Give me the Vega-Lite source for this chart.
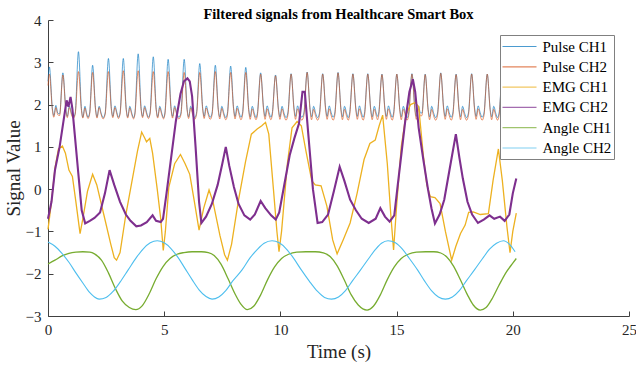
{
"$schema":"https://vega.github.io/schema/vega-lite/v6.json",
"width":581,"height":296,
"autosize":{"type":"none"},
"padding":{"left":48,"top":20,"right":7,"bottom":52},
"background":"white",
"title":{"text":"Filtered signals from Healthcare Smart Box","font":"Liberation Serif","fontSize":14.5,"fontWeight":"bold","color":"#000000","offset":-9,"anchor":"middle"},
"config":{
 "view":{"stroke":null},
 "axis":{"grid":false,"domainColor":"#404040","tickColor":"#404040","tickSize":-5,"labelFont":"Liberation Serif","labelFontSize":15,"labelColor":"#262626","titleFont":"Liberation Serif","titleFontSize":19,"titleFontWeight":"normal","titleColor":"#262626","labelFlush":false,"labelOverlap":false,"labelBound":false},
 "legend":{"orient":"none","legendX":452,"legendY":15,"labelFont":"Liberation Serif","labelFontSize":15,"labelColor":"#000000","symbolType":"M-2.125,0H2.125","symbolSize":256,"symbolStrokeWidth":1.2,"strokeColor":"#808080","fillColor":"#ffffff","padding":2.5,"rowPadding":3.3,"symbolOffset":8,"labelOffset":14}
},
"datasets":{
"pulse":[
{"t":0,"Pulse CH1":2.55,"Pulse CH2":2.45},
{"t":0.06,"Pulse CH1":2.89,"Pulse CH2":2.72},{"t":0.19,"Pulse CH1":1.9,"Pulse CH2":1.86},{"t":0.25,"Pulse CH1":1.74,"Pulse CH2":1.7},{"t":0.34,"Pulse CH1":1.98,"Pulse CH2":1.93},{"t":0.42,"Pulse CH1":1.8,"Pulse CH2":1.76},{"t":0.5,"Pulse CH1":1.78,"Pulse CH2":1.74},
{"t":0.64,"Pulse CH1":2.75,"Pulse CH2":2.7},{"t":0.77,"Pulse CH1":1.88,"Pulse CH2":1.85},{"t":0.83,"Pulse CH1":1.72,"Pulse CH2":1.69},{"t":0.92,"Pulse CH1":1.97,"Pulse CH2":1.93},{"t":1.01,"Pulse CH1":1.8,"Pulse CH2":1.76},{"t":1.09,"Pulse CH1":1.7,"Pulse CH2":1.67},{"t":1.17,"Pulse CH1":1.8,"Pulse CH2":1.77},
{"t":1.31,"Pulse CH1":3.25,"Pulse CH2":2.78},{"t":1.44,"Pulse CH1":1.9,"Pulse CH2":1.86},{"t":1.5,"Pulse CH1":1.7,"Pulse CH2":1.68},{"t":1.59,"Pulse CH1":1.96,"Pulse CH2":1.92},{"t":1.66,"Pulse CH1":1.8,"Pulse CH2":1.76},{"t":1.72,"Pulse CH1":1.7,"Pulse CH2":1.67},{"t":1.79,"Pulse CH1":1.8,"Pulse CH2":1.77},
{"t":1.92,"Pulse CH1":2.93,"Pulse CH2":2.76},{"t":2.05,"Pulse CH1":1.88,"Pulse CH2":1.85},{"t":2.11,"Pulse CH1":1.71,"Pulse CH2":1.68},{"t":2.2,"Pulse CH1":1.96,"Pulse CH2":1.93},{"t":2.29,"Pulse CH1":1.79,"Pulse CH2":1.76},{"t":2.37,"Pulse CH1":1.69,"Pulse CH2":1.66},{"t":2.46,"Pulse CH1":1.8,"Pulse CH2":1.77},
{"t":2.6,"Pulse CH1":3.09,"Pulse CH2":2.78},{"t":2.73,"Pulse CH1":1.9,"Pulse CH2":1.86},{"t":2.79,"Pulse CH1":1.72,"Pulse CH2":1.69},{"t":2.88,"Pulse CH1":1.97,"Pulse CH2":1.93},{"t":2.97,"Pulse CH1":1.8,"Pulse CH2":1.76},{"t":3.03,"Pulse CH1":1.7,"Pulse CH2":1.67},{"t":3.1,"Pulse CH1":1.8,"Pulse CH2":1.77},
{"t":3.24,"Pulse CH1":3.09,"Pulse CH2":2.8},{"t":3.37,"Pulse CH1":1.88,"Pulse CH2":1.85},{"t":3.43,"Pulse CH1":1.71,"Pulse CH2":1.68},{"t":3.52,"Pulse CH1":1.96,"Pulse CH2":1.92},{"t":3.61,"Pulse CH1":1.79,"Pulse CH2":1.75},{"t":3.68,"Pulse CH1":1.69,"Pulse CH2":1.66},{"t":3.74,"Pulse CH1":1.8,"Pulse CH2":1.77},
{"t":3.88,"Pulse CH1":3.2,"Pulse CH2":2.8},{"t":4.01,"Pulse CH1":1.9,"Pulse CH2":1.86},{"t":4.07,"Pulse CH1":1.72,"Pulse CH2":1.69},{"t":4.16,"Pulse CH1":1.97,"Pulse CH2":1.93},{"t":4.25,"Pulse CH1":1.8,"Pulse CH2":1.76},{"t":4.32,"Pulse CH1":1.7,"Pulse CH2":1.67},{"t":4.39,"Pulse CH1":1.8,"Pulse CH2":1.77},
{"t":4.53,"Pulse CH1":3.13,"Pulse CH2":2.78},{"t":4.66,"Pulse CH1":1.88,"Pulse CH2":1.85},{"t":4.72,"Pulse CH1":1.71,"Pulse CH2":1.68},{"t":4.81,"Pulse CH1":1.96,"Pulse CH2":1.92},{"t":4.9,"Pulse CH1":1.79,"Pulse CH2":1.75},{"t":4.97,"Pulse CH1":1.69,"Pulse CH2":1.66},{"t":5.03,"Pulse CH1":1.8,"Pulse CH2":1.77},
{"t":5.17,"Pulse CH1":3.07,"Pulse CH2":2.78},{"t":5.3,"Pulse CH1":1.9,"Pulse CH2":1.86},{"t":5.36,"Pulse CH1":1.72,"Pulse CH2":1.68},{"t":5.45,"Pulse CH1":1.97,"Pulse CH2":1.93},{"t":5.54,"Pulse CH1":1.8,"Pulse CH2":1.76},{"t":5.63,"Pulse CH1":1.7,"Pulse CH2":1.66},{"t":5.72,"Pulse CH1":1.8,"Pulse CH2":1.76},
{"t":5.86,"Pulse CH1":3.07,"Pulse CH2":2.76},{"t":5.99,"Pulse CH1":1.88,"Pulse CH2":1.85},{"t":6.05,"Pulse CH1":1.71,"Pulse CH2":1.67},{"t":6.14,"Pulse CH1":1.96,"Pulse CH2":1.92},{"t":6.23,"Pulse CH1":1.79,"Pulse CH2":1.75},{"t":6.31,"Pulse CH1":1.69,"Pulse CH2":1.65},{"t":6.39,"Pulse CH1":1.8,"Pulse CH2":1.76},
{"t":6.53,"Pulse CH1":2.97,"Pulse CH2":2.76},{"t":6.66,"Pulse CH1":1.9,"Pulse CH2":1.86},{"t":6.72,"Pulse CH1":1.72,"Pulse CH2":1.67},{"t":6.81,"Pulse CH1":1.97,"Pulse CH2":1.92},{"t":6.9,"Pulse CH1":1.8,"Pulse CH2":1.75},{"t":6.98,"Pulse CH1":1.7,"Pulse CH2":1.65},{"t":7.06,"Pulse CH1":1.8,"Pulse CH2":1.76},
{"t":7.2,"Pulse CH1":2.93,"Pulse CH2":2.78},{"t":7.33,"Pulse CH1":1.88,"Pulse CH2":1.85},{"t":7.39,"Pulse CH1":1.71,"Pulse CH2":1.66},{"t":7.48,"Pulse CH1":1.96,"Pulse CH2":1.91},{"t":7.57,"Pulse CH1":1.79,"Pulse CH2":1.74},{"t":7.65,"Pulse CH1":1.69,"Pulse CH2":1.64},{"t":7.72,"Pulse CH1":1.8,"Pulse CH2":1.75},
{"t":7.86,"Pulse CH1":2.91,"Pulse CH2":2.76},{"t":7.99,"Pulse CH1":1.9,"Pulse CH2":1.86},{"t":8.05,"Pulse CH1":1.72,"Pulse CH2":1.66},{"t":8.14,"Pulse CH1":1.97,"Pulse CH2":1.91},{"t":8.23,"Pulse CH1":1.8,"Pulse CH2":1.74},{"t":8.3,"Pulse CH1":1.7,"Pulse CH2":1.64},{"t":8.37,"Pulse CH1":1.8,"Pulse CH2":1.75},
{"t":8.51,"Pulse CH1":2.88,"Pulse CH2":2.76},{"t":8.64,"Pulse CH1":1.88,"Pulse CH2":1.84},{"t":8.7,"Pulse CH1":1.71,"Pulse CH2":1.65},{"t":8.79,"Pulse CH1":1.96,"Pulse CH2":1.9},{"t":8.88,"Pulse CH1":1.79,"Pulse CH2":1.73},{"t":8.95,"Pulse CH1":1.69,"Pulse CH2":1.64},{"t":9.01,"Pulse CH1":1.8,"Pulse CH2":1.75},
{"t":9.15,"Pulse CH1":2.75,"Pulse CH2":2.72},{"t":9.28,"Pulse CH1":1.9,"Pulse CH2":1.85},{"t":9.34,"Pulse CH1":1.72,"Pulse CH2":1.65},{"t":9.43,"Pulse CH1":1.97,"Pulse CH2":1.9},{"t":9.52,"Pulse CH1":1.8,"Pulse CH2":1.73},{"t":9.59,"Pulse CH1":1.7,"Pulse CH2":1.64},{"t":9.65,"Pulse CH1":1.8,"Pulse CH2":1.75},
{"t":9.79,"Pulse CH1":2.7,"Pulse CH2":2.68},{"t":9.92,"Pulse CH1":1.88,"Pulse CH2":1.84},{"t":9.98,"Pulse CH1":1.71,"Pulse CH2":1.65},{"t":10.07,"Pulse CH1":1.96,"Pulse CH2":1.9},{"t":10.16,"Pulse CH1":1.79,"Pulse CH2":1.73},{"t":10.24,"Pulse CH1":1.69,"Pulse CH2":1.63},{"t":10.32,"Pulse CH1":1.8,"Pulse CH2":1.74},
{"t":10.46,"Pulse CH1":2.73,"Pulse CH2":2.72},{"t":10.59,"Pulse CH1":1.9,"Pulse CH2":1.85},{"t":10.65,"Pulse CH1":1.72,"Pulse CH2":1.65},{"t":10.74,"Pulse CH1":1.97,"Pulse CH2":1.9},{"t":10.83,"Pulse CH1":1.8,"Pulse CH2":1.73},{"t":10.92,"Pulse CH1":1.7,"Pulse CH2":1.63},{"t":11.01,"Pulse CH1":1.8,"Pulse CH2":1.74},
{"t":11.15,"Pulse CH1":2.77,"Pulse CH2":2.76},{"t":11.28,"Pulse CH1":1.88,"Pulse CH2":1.84},{"t":11.34,"Pulse CH1":1.71,"Pulse CH2":1.64},{"t":11.43,"Pulse CH1":1.96,"Pulse CH2":1.89},{"t":11.52,"Pulse CH1":1.79,"Pulse CH2":1.72},{"t":11.6,"Pulse CH1":1.69,"Pulse CH2":1.63},{"t":11.68,"Pulse CH1":1.8,"Pulse CH2":1.74},
{"t":11.82,"Pulse CH1":2.73,"Pulse CH2":2.72},{"t":11.95,"Pulse CH1":1.9,"Pulse CH2":1.85},{"t":12.01,"Pulse CH1":1.72,"Pulse CH2":1.65},{"t":12.1,"Pulse CH1":1.97,"Pulse CH2":1.9},{"t":12.19,"Pulse CH1":1.8,"Pulse CH2":1.73},{"t":12.27,"Pulse CH1":1.7,"Pulse CH2":1.63},{"t":12.34,"Pulse CH1":1.8,"Pulse CH2":1.74},
{"t":12.48,"Pulse CH1":2.76,"Pulse CH2":2.75},{"t":12.61,"Pulse CH1":1.88,"Pulse CH2":1.84},{"t":12.67,"Pulse CH1":1.71,"Pulse CH2":1.64},{"t":12.76,"Pulse CH1":1.96,"Pulse CH2":1.89},{"t":12.85,"Pulse CH1":1.79,"Pulse CH2":1.72},{"t":12.92,"Pulse CH1":1.69,"Pulse CH2":1.63},{"t":12.98,"Pulse CH1":1.8,"Pulse CH2":1.74},
{"t":13.12,"Pulse CH1":2.73,"Pulse CH2":2.72},{"t":13.25,"Pulse CH1":1.9,"Pulse CH2":1.85},{"t":13.31,"Pulse CH1":1.72,"Pulse CH2":1.65},{"t":13.4,"Pulse CH1":1.97,"Pulse CH2":1.9},{"t":13.49,"Pulse CH1":1.8,"Pulse CH2":1.73},{"t":13.56,"Pulse CH1":1.7,"Pulse CH2":1.63},{"t":13.62,"Pulse CH1":1.8,"Pulse CH2":1.74},
{"t":13.76,"Pulse CH1":2.73,"Pulse CH2":2.72},{"t":13.89,"Pulse CH1":1.88,"Pulse CH2":1.84},{"t":13.95,"Pulse CH1":1.71,"Pulse CH2":1.64},{"t":14.04,"Pulse CH1":1.96,"Pulse CH2":1.89},{"t":14.13,"Pulse CH1":1.79,"Pulse CH2":1.72},{"t":14.18,"Pulse CH1":1.72,"Pulse CH2":1.64},{"t":14.23,"Pulse CH1":1.8,"Pulse CH2":1.74},
{"t":14.37,"Pulse CH1":2.72,"Pulse CH2":2.71},{"t":14.5,"Pulse CH1":1.9,"Pulse CH2":1.85},{"t":14.56,"Pulse CH1":1.72,"Pulse CH2":1.65},{"t":14.65,"Pulse CH1":1.97,"Pulse CH2":1.9},{"t":14.74,"Pulse CH1":1.8,"Pulse CH2":1.73},{"t":14.81,"Pulse CH1":1.7,"Pulse CH2":1.63},{"t":14.87,"Pulse CH1":1.8,"Pulse CH2":1.74},
{"t":15.01,"Pulse CH1":2.72,"Pulse CH2":2.72},{"t":15.14,"Pulse CH1":1.88,"Pulse CH2":1.84},{"t":15.2,"Pulse CH1":1.71,"Pulse CH2":1.64},{"t":15.29,"Pulse CH1":1.96,"Pulse CH2":1.89},{"t":15.38,"Pulse CH1":1.79,"Pulse CH2":1.72},{"t":15.45,"Pulse CH1":1.69,"Pulse CH2":1.63},{"t":15.52,"Pulse CH1":1.8,"Pulse CH2":1.74},
{"t":15.66,"Pulse CH1":2.73,"Pulse CH2":2.72},{"t":15.79,"Pulse CH1":1.9,"Pulse CH2":1.85},{"t":15.85,"Pulse CH1":1.72,"Pulse CH2":1.65},{"t":15.94,"Pulse CH1":1.97,"Pulse CH2":1.9},{"t":16.03,"Pulse CH1":1.8,"Pulse CH2":1.73},{"t":16.09,"Pulse CH1":1.8,"Pulse CH2":1.74},
{"t":16.23,"Pulse CH1":2.72,"Pulse CH2":2.71},{"t":16.36,"Pulse CH1":1.88,"Pulse CH2":1.84},{"t":16.42,"Pulse CH1":1.71,"Pulse CH2":1.64},{"t":16.51,"Pulse CH1":1.96,"Pulse CH2":1.89},{"t":16.6,"Pulse CH1":1.79,"Pulse CH2":1.72},{"t":16.68,"Pulse CH1":1.69,"Pulse CH2":1.63},{"t":16.76,"Pulse CH1":1.8,"Pulse CH2":1.74},
{"t":16.9,"Pulse CH1":2.75,"Pulse CH2":2.74},{"t":17.03,"Pulse CH1":1.9,"Pulse CH2":1.85},{"t":17.09,"Pulse CH1":1.72,"Pulse CH2":1.65},{"t":17.18,"Pulse CH1":1.97,"Pulse CH2":1.9},{"t":17.27,"Pulse CH1":1.8,"Pulse CH2":1.73},{"t":17.35,"Pulse CH1":1.7,"Pulse CH2":1.63},{"t":17.42,"Pulse CH1":1.8,"Pulse CH2":1.74},
{"t":17.56,"Pulse CH1":2.72,"Pulse CH2":2.71},{"t":17.69,"Pulse CH1":1.88,"Pulse CH2":1.84},{"t":17.75,"Pulse CH1":1.71,"Pulse CH2":1.64},{"t":17.84,"Pulse CH1":1.96,"Pulse CH2":1.89},{"t":17.93,"Pulse CH1":1.79,"Pulse CH2":1.72},{"t":18.01,"Pulse CH1":1.69,"Pulse CH2":1.63},{"t":18.09,"Pulse CH1":1.8,"Pulse CH2":1.74},
{"t":18.23,"Pulse CH1":2.73,"Pulse CH2":2.72},{"t":18.36,"Pulse CH1":1.9,"Pulse CH2":1.85},{"t":18.42,"Pulse CH1":1.72,"Pulse CH2":1.65},{"t":18.51,"Pulse CH1":1.97,"Pulse CH2":1.9},{"t":18.6,"Pulse CH1":1.8,"Pulse CH2":1.73},{"t":18.68,"Pulse CH1":1.7,"Pulse CH2":1.63},{"t":18.76,"Pulse CH1":1.8,"Pulse CH2":1.74},
{"t":18.9,"Pulse CH1":2.72,"Pulse CH2":2.72},{"t":19.03,"Pulse CH1":1.88,"Pulse CH2":1.84},{"t":19.09,"Pulse CH1":1.71,"Pulse CH2":1.64},{"t":19.18,"Pulse CH1":1.96,"Pulse CH2":1.89},{"t":19.27,"Pulse CH1":1.79,"Pulse CH2":1.72},{"t":19.34,"Pulse CH1":1.69,"Pulse CH2":1.63},{"t":19.41,"Pulse CH1":1.8,"Pulse CH2":1.74},
{"t":19.55,"Pulse CH1":2.72,"Pulse CH2":2.71},{"t":19.68,"Pulse CH1":1.9,"Pulse CH2":1.85},{"t":19.74,"Pulse CH1":1.72,"Pulse CH2":1.65},{"t":19.83,"Pulse CH1":1.97,"Pulse CH2":1.9},{"t":19.92,"Pulse CH1":1.8,"Pulse CH2":1.73},{"t":20.0,"Pulse CH1":1.7,"Pulse CH2":1.63},{"t":20.1,"Pulse CH1":1.82,"Pulse CH2":1.76}
],
"emg1":[
{"t":0,"v":-0.95},{"t":0.15,"v":-0.3},{"t":0.3,"v":0.5},{"t":0.45,"v":0.95},{"t":0.62,"v":1.02},{"t":0.75,"v":0.85},{"t":0.9,"v":0.45},{"t":1.05,"v":0.3},{"t":1.2,"v":-0.3},{"t":1.38,"v":-1.05},{"t":1.5,"v":-0.7},{"t":1.7,"v":-0.05},{"t":1.92,"v":0.35},{"t":2.1,"v":0.1},{"t":2.4,"v":-0.6},{"t":2.7,"v":-1.3},{"t":2.85,"v":-1.62},{"t":2.95,"v":-1.68},{"t":3.1,"v":-1.5},{"t":3.35,"v":-0.6},{"t":3.6,"v":0.15},{"t":3.85,"v":0.9},{"t":4.03,"v":1.35},{"t":4.15,"v":1.22},{"t":4.24,"v":1.12},{"t":4.38,"v":1.2},{"t":4.5,"v":0.85},{"t":4.7,"v":0.0},{"t":4.85,"v":-0.7},{"t":4.96,"v":-1.45},{"t":5.05,"v":-1.0},{"t":5.2,"v":0.05},{"t":5.45,"v":0.6},{"t":5.7,"v":0.82},{"t":5.9,"v":0.6},{"t":6.1,"v":0.35},{"t":6.3,"v":-0.3},{"t":6.5,"v":-0.97},{"t":6.7,"v":-0.45},{"t":6.93,"v":-0.02},{"t":7.1,"v":-0.3},{"t":7.4,"v":-1.1},{"t":7.6,"v":-1.55},{"t":7.72,"v":-1.68},{"t":7.9,"v":-1.3},{"t":8.2,"v":-0.25},{"t":8.5,"v":0.65},{"t":8.75,"v":1.3},{"t":9.0,"v":1.42},{"t":9.2,"v":1.5},{"t":9.36,"v":1.58},{"t":9.5,"v":1.3},{"t":9.7,"v":0.0},{"t":9.85,"v":-1.0},{"t":9.94,"v":-1.48},{"t":10.05,"v":-1.0},{"t":10.3,"v":0.6},{"t":10.5,"v":1.45},{"t":10.72,"v":1.6},{"t":10.9,"v":1.5},{"t":11.1,"v":0.9},{"t":11.35,"v":0.2},{"t":11.5,"v":0.1},{"t":11.75,"v":0.08},{"t":12.0,"v":-0.4},{"t":12.25,"v":-1.2},{"t":12.44,"v":-1.53},{"t":12.7,"v":-1.2},{"t":13.0,"v":-0.8},{"t":13.3,"v":-0.1},{"t":13.6,"v":0.7},{"t":13.85,"v":1.08},{"t":14.08,"v":1.16},{"t":14.25,"v":1.5},{"t":14.4,"v":1.75},{"t":14.6,"v":0.6},{"t":14.75,"v":-0.6},{"t":14.87,"v":-1.44},{"t":15.0,"v":-0.4},{"t":15.2,"v":1.0},{"t":15.4,"v":1.75},{"t":15.6,"v":2.0},{"t":15.8,"v":2.05},{"t":15.95,"v":1.95},{"t":16.15,"v":0.8},{"t":16.3,"v":0.1},{"t":16.45,"v":-0.18},{"t":16.65,"v":-0.2},{"t":16.87,"v":-0.34},{"t":17.1,"v":-1.0},{"t":17.37,"v":-1.68},{"t":17.55,"v":-1.35},{"t":17.75,"v":-1.05},{"t":17.95,"v":-0.85},{"t":18.1,"v":-0.55},{"t":18.3,"v":-0.54},{"t":18.6,"v":-0.6},{"t":18.95,"v":-0.58},{"t":19.15,"v":0.2},{"t":19.38,"v":0.95},{"t":19.55,"v":0.2},{"t":19.75,"v":-0.9},{"t":19.88,"v":-1.5},{"t":20.0,"v":-1.0},{"t":20.15,"v":-0.57}
],
"emg2":[
{"t":0,"v":-0.7},{"t":0.15,"v":-0.3},{"t":0.3,"v":0.45},{"t":0.5,"v":1.0},{"t":0.65,"v":1.55},{"t":0.8,"v":2.1},{"t":0.88,"v":1.95},{"t":0.97,"v":2.18},{"t":1.05,"v":1.9},{"t":1.15,"v":1.3},{"t":1.3,"v":0.4},{"t":1.45,"v":-0.5},{"t":1.6,"v":-0.81},{"t":1.8,"v":-0.75},{"t":2.0,"v":-0.68},{"t":2.24,"v":-0.55},{"t":2.45,"v":-0.1},{"t":2.65,"v":0.45},{"t":2.85,"v":0.1},{"t":3.1,"v":-0.3},{"t":3.35,"v":-0.6},{"t":3.55,"v":-0.75},{"t":3.8,"v":-0.88},{"t":4.0,"v":-0.86},{"t":4.25,"v":-0.78},{"t":4.5,"v":-0.62},{"t":4.65,"v":-0.75},{"t":4.85,"v":-0.78},{"t":4.95,"v":-0.7},{"t":5.1,"v":-0.1},{"t":5.3,"v":0.75},{"t":5.5,"v":1.6},{"t":5.7,"v":2.25},{"t":5.85,"v":2.55},{"t":6.0,"v":2.62},{"t":6.1,"v":2.55},{"t":6.2,"v":2.2},{"t":6.35,"v":1.0},{"t":6.5,"v":-0.3},{"t":6.6,"v":-0.8},{"t":6.8,"v":-0.65},{"t":7.05,"v":-0.35},{"t":7.3,"v":0.1},{"t":7.5,"v":0.6},{"t":7.65,"v":1.0},{"t":7.8,"v":0.55},{"t":8.0,"v":0.05},{"t":8.2,"v":-0.35},{"t":8.45,"v":-0.62},{"t":8.7,"v":-0.72},{"t":8.9,"v":-0.6},{"t":9.15,"v":-0.28},{"t":9.35,"v":-0.45},{"t":9.6,"v":-0.62},{"t":9.8,"v":-0.72},{"t":9.95,"v":-0.55},{"t":10.15,"v":0.05},{"t":10.4,"v":0.8},{"t":10.6,"v":1.2},{"t":10.8,"v":1.55},{"t":10.95,"v":2.3},{"t":11.05,"v":2.3},{"t":11.2,"v":1.3},{"t":11.4,"v":0.0},{"t":11.6,"v":-0.8},{"t":11.8,"v":-0.78},{"t":12.05,"v":-0.6},{"t":12.3,"v":-0.05},{"t":12.55,"v":0.53},{"t":12.75,"v":0.2},{"t":13.0,"v":-0.25},{"t":13.25,"v":-0.5},{"t":13.5,"v":-0.7},{"t":13.8,"v":-0.8},{"t":14.1,"v":-0.7},{"t":14.3,"v":-0.45},{"t":14.5,"v":-0.65},{"t":14.7,"v":-0.77},{"t":14.9,"v":-0.62},{"t":15.05,"v":0.1},{"t":15.2,"v":0.8},{"t":15.37,"v":1.6},{"t":15.55,"v":2.3},{"t":15.7,"v":2.6},{"t":15.8,"v":2.3},{"t":15.95,"v":1.45},{"t":16.15,"v":0.7},{"t":16.35,"v":0.0},{"t":16.5,"v":-0.45},{"t":16.65,"v":-0.81},{"t":16.85,"v":-0.6},{"t":17.05,"v":-0.25},{"t":17.3,"v":0.53},{"t":17.55,"v":1.3},{"t":17.7,"v":0.75},{"t":17.85,"v":0.25},{"t":18.05,"v":-0.3},{"t":18.25,"v":-0.6},{"t":18.5,"v":-0.8},{"t":18.75,"v":-0.72},{"t":19.0,"v":-0.62},{"t":19.2,"v":-0.7},{"t":19.45,"v":-0.65},{"t":19.65,"v":-0.75},{"t":19.85,"v":-0.6},{"t":20.0,"v":-0.1},{"t":20.15,"v":0.25}
],
"ang1":[
{"t":0,"v":-1.77},{"t":0.3,"v":-1.68},{"t":0.6,"v":-1.58},{"t":0.9,"v":-1.52},{"t":1.2,"v":-1.49},{"t":1.5,"v":-1.48},{"t":1.8,"v":-1.49},{"t":2.0,"v":-1.53},{"t":2.3,"v":-1.68},{"t":2.6,"v":-1.98},{"t":2.9,"v":-2.35},{"t":3.2,"v":-2.65},{"t":3.5,"v":-2.8},{"t":3.78,"v":-2.85},{"t":4.05,"v":-2.76},{"t":4.35,"v":-2.48},{"t":4.65,"v":-2.12},{"t":4.95,"v":-1.83},{"t":5.25,"v":-1.64},{"t":5.55,"v":-1.54},{"t":5.85,"v":-1.5},{"t":6.2,"v":-1.48},{"t":6.6,"v":-1.48},{"t":6.9,"v":-1.5},{"t":7.15,"v":-1.57},{"t":7.45,"v":-1.78},{"t":7.75,"v":-2.12},{"t":8.05,"v":-2.48},{"t":8.3,"v":-2.72},{"t":8.58,"v":-2.85},{"t":8.85,"v":-2.77},{"t":9.15,"v":-2.5},{"t":9.45,"v":-2.14},{"t":9.75,"v":-1.84},{"t":10.05,"v":-1.64},{"t":10.35,"v":-1.54},{"t":10.7,"v":-1.49},{"t":11.1,"v":-1.48},{"t":11.5,"v":-1.48},{"t":11.85,"v":-1.51},{"t":12.15,"v":-1.6},{"t":12.45,"v":-1.82},{"t":12.75,"v":-2.15},{"t":13.05,"v":-2.5},{"t":13.35,"v":-2.74},{"t":13.73,"v":-2.86},{"t":14.0,"v":-2.77},{"t":14.3,"v":-2.5},{"t":14.6,"v":-2.14},{"t":14.9,"v":-1.84},{"t":15.2,"v":-1.64},{"t":15.5,"v":-1.54},{"t":15.85,"v":-1.49},{"t":16.25,"v":-1.48},{"t":16.6,"v":-1.48},{"t":16.9,"v":-1.51},{"t":17.15,"v":-1.6},{"t":17.45,"v":-1.82},{"t":17.75,"v":-2.15},{"t":18.05,"v":-2.5},{"t":18.3,"v":-2.74},{"t":18.6,"v":-2.86},{"t":18.85,"v":-2.8},{"t":19.1,"v":-2.6},{"t":19.4,"v":-2.28},{"t":19.7,"v":-1.98},{"t":20.0,"v":-1.75},{"t":20.15,"v":-1.64}
],
"ang2":[
{"t":0,"v":-1.25},{"t":0.3,"v":-1.35},{"t":0.6,"v":-1.52},{"t":0.9,"v":-1.73},{"t":1.2,"v":-1.98},{"t":1.5,"v":-2.22},{"t":1.8,"v":-2.45},{"t":2.0,"v":-2.55},{"t":2.2,"v":-2.6},{"t":2.5,"v":-2.56},{"t":2.8,"v":-2.42},{"t":3.1,"v":-2.2},{"t":3.45,"v":-1.91},{"t":3.8,"v":-1.62},{"t":4.1,"v":-1.41},{"t":4.4,"v":-1.27},{"t":4.7,"v":-1.22},{"t":5.0,"v":-1.27},{"t":5.3,"v":-1.41},{"t":5.6,"v":-1.62},{"t":5.9,"v":-1.88},{"t":6.2,"v":-2.14},{"t":6.5,"v":-2.38},{"t":6.8,"v":-2.54},{"t":7.06,"v":-2.6},{"t":7.35,"v":-2.55},{"t":7.65,"v":-2.4},{"t":7.95,"v":-2.17},{"t":8.35,"v":-1.91},{"t":8.7,"v":-1.62},{"t":9.0,"v":-1.43},{"t":9.3,"v":-1.28},{"t":9.64,"v":-1.22},{"t":9.95,"v":-1.27},{"t":10.25,"v":-1.41},{"t":10.55,"v":-1.62},{"t":10.9,"v":-1.91},{"t":11.25,"v":-2.18},{"t":11.6,"v":-2.42},{"t":11.9,"v":-2.56},{"t":12.2,"v":-2.6},{"t":12.5,"v":-2.55},{"t":12.8,"v":-2.4},{"t":13.1,"v":-2.17},{"t":13.45,"v":-1.91},{"t":13.8,"v":-1.64},{"t":14.1,"v":-1.42},{"t":14.35,"v":-1.28},{"t":14.63,"v":-1.22},{"t":14.95,"v":-1.27},{"t":15.25,"v":-1.42},{"t":15.55,"v":-1.64},{"t":15.9,"v":-1.91},{"t":16.2,"v":-2.17},{"t":16.5,"v":-2.4},{"t":16.8,"v":-2.55},{"t":17.1,"v":-2.6},{"t":17.4,"v":-2.55},{"t":17.7,"v":-2.4},{"t":18.0,"v":-2.17},{"t":18.35,"v":-1.91},{"t":18.7,"v":-1.64},{"t":19.0,"v":-1.42},{"t":19.3,"v":-1.28},{"t":19.6,"v":-1.22},{"t":19.85,"v":-1.3},{"t":20.1,"v":-1.48}
]
},
"encoding":{
 "x":{"field":"t","type":"quantitative","scale":{"domain":[0,25],"nice":false,"zero":false},"axis":{"title":"Time (s)","values":[0,5,10,15,20,25],"labelPadding":11,"titlePadding":5}},
 "y":{"field":"v","type":"quantitative","scale":{"domain":[-3,4],"nice":false,"zero":false},"axis":{"title":"Signal Value","values":[-3,-2,-1,0,1,2,3,4],"labelPadding":12,"titlePadding":2}}
},
"layer":[
 {"data":{"name":"pulse"},"transform":[{"fold":["Pulse CH1","Pulse CH2"],"as":["s","v"]}],
  "mark":{"type":"line","strokeWidth":0.9,"opacity":0.7,"interpolate":"monotone"},
  "encoding":{"color":{"field":"s","type":"nominal","title":null,"scale":{"domain":["Pulse CH1","Pulse CH2","EMG CH1","EMG CH2","Angle CH1","Angle CH2"],"range":["#0072BD","#D95319","#EDB120","#7E2F8E","#77AC30","#4DBEEE"]}}}},
 {"data":{"name":"emg1"},"mark":{"type":"line","strokeWidth":1.3},"encoding":{"color":{"datum":"EMG CH1","type":"nominal","title":null}}},
 {"data":{"name":"emg2"},"mark":{"type":"line","strokeWidth":2.1},"encoding":{"color":{"datum":"EMG CH2","type":"nominal","title":null}}},
 {"data":{"name":"ang1"},"mark":{"type":"line","strokeWidth":1.3,"interpolate":"monotone"},"encoding":{"color":{"datum":"Angle CH1","type":"nominal","title":null}}},
 {"data":{"name":"ang2"},"mark":{"type":"line","strokeWidth":1.1,"interpolate":"monotone"},"encoding":{"color":{"datum":"Angle CH2","type":"nominal","title":null}}}
]
}
